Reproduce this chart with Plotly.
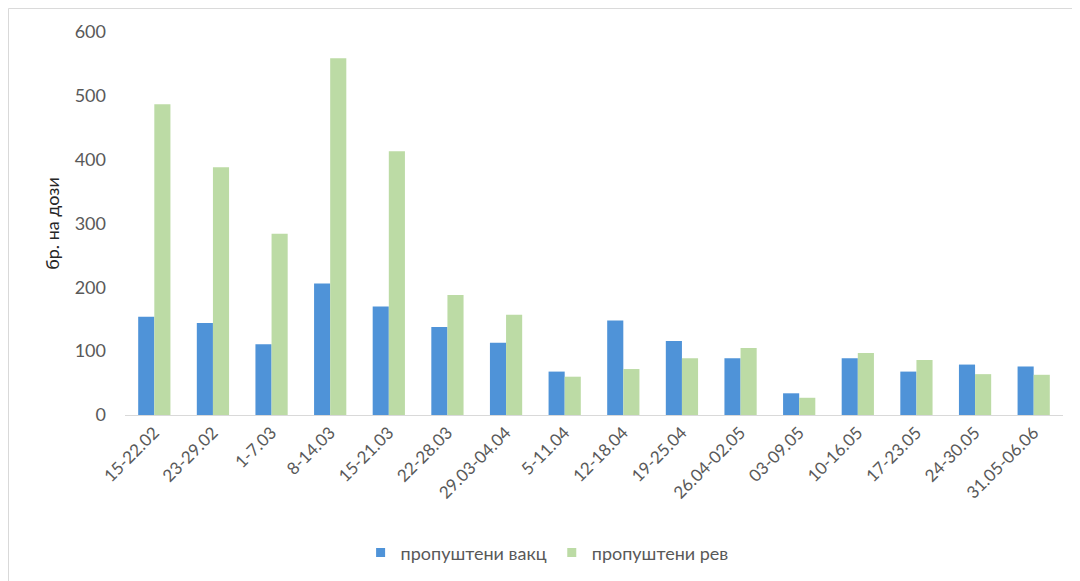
import plotly.graph_objects as go

categories = ["15-22.02", "23-29.02", "1-7.03", "8-14.03", "15-21.03", "22-28.03",
              "29.03-04.04", "5-11.04", "12-18.04", "19-25.04", "26.04-02.05",
              "03-09.05", "10-16.05", "17-23.05", "24-30.05", "31.05-06.06"]
vakc = [154, 144, 111, 206, 170, 138, 113, 68, 148, 116, 89, 34, 89, 68, 79, 76]
rev = [487, 388, 284, 559, 413, 188, 157, 60, 72, 89, 105, 27, 97, 86, 64, 63]
series_names = ["пропуштени вакц", "пропуштени рев"]
y_ticks = [0, 100, 200, 300, 400, 500, 600]

font_family = "Lato, 'Open Sans', sans-serif"
grey = "#595959"
colors = ["#4F93D8", "#BCDBA5"]

fig = go.Figure()
for vals, name, col in zip([vakc, rev], series_names, colors):
    fig.add_trace(go.Bar(x=categories, y=vals, name=name, showlegend=False,
                         marker=dict(color=col, line=dict(width=0))))
# legend entries with small square keys
for name, col in zip(series_names, colors):
    fig.add_trace(go.Scatter(x=[None], y=[None], mode="markers", name=name,
                             marker=dict(symbol="square", size=9, color=col)))

fig.update_layout(
    width=1080, height=581,
    margin=dict(l=117, r=25, t=24, b=174, autoexpand=False),
    paper_bgcolor="white", plot_bgcolor="white",
    barmode="group", bargap=0.45, bargroupgap=0,
    font=dict(family=font_family, size=18, color=grey),
    showlegend=True,
    legend=dict(orientation="h", x=0.45, xanchor="center", y=-0.36, yanchor="middle",
                font=dict(size=18, color=grey), itemwidth=30, traceorder="normal"),
    shapes=[
        dict(type="line", xref="paper", yref="paper", x0=-0.1242, x1=1.2, y0=1.0614, y1=1.0614,
             line=dict(color="#D9D9D9", width=1)),
        dict(type="line", xref="paper", yref="paper", x0=-0.1242, x1=-0.1242, y0=1.0614, y1=-0.6,
             line=dict(color="#D9D9D9", width=1)),
    ],
)
fig.update_xaxes(
    type="category", tickangle=-45, showgrid=False, showline=True, automargin=False,
    linecolor="#D9D9D9", linewidth=1, ticks="", tickfont=dict(size=17, color=grey),
)
fig.update_yaxes(
    range=[0, 600], tickvals=y_ticks, showgrid=False, showline=False, zeroline=False,
    ticks="", ticklabelstandoff=18, automargin=False, tickfont=dict(size=18, color=grey),
    title=dict(text="бр. на дози", font=dict(size=18, color="#262626"), standoff=10),
)

fig.write_html("out.html")
